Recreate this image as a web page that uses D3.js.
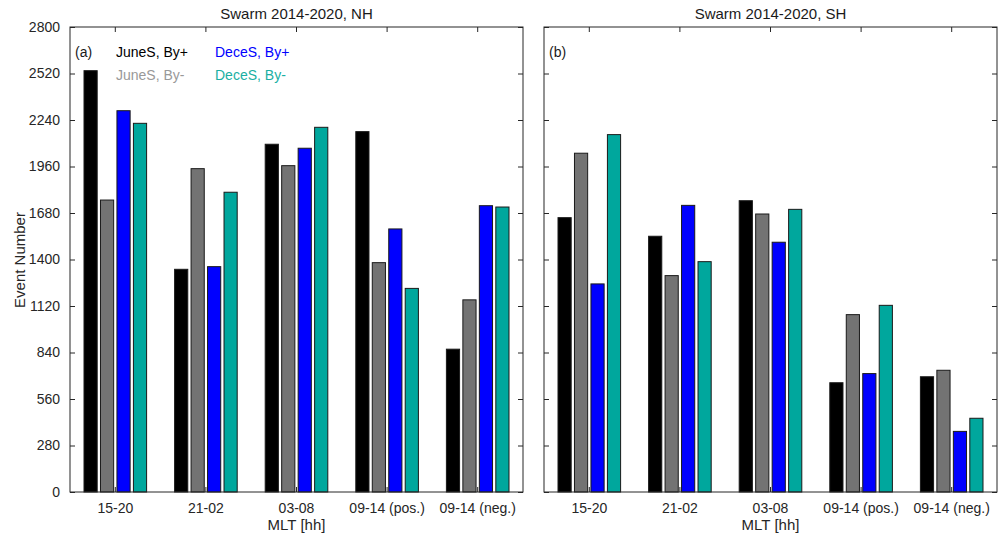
<!DOCTYPE html>
<html>
<head>
<meta charset="utf-8">
<script src="https://cdn.jsdelivr.net/npm/d3@7"></script>
<style>
  body { margin: 0; background: #fff; }
  svg { font-family: "Liberation Sans", Arial, Helvetica, sans-serif; }
</style>
</head>
<body>
<svg id="chart" width="1001" height="536"></svg>
<script>
// categories and series
const categories = ['15-20', '21-02', '03-08', '09-14 (pos.)', '09-14 (neg.)'];
const seriesNames = ['JuneS, By+', 'JuneS, By-', 'DeceS, By+', 'DeceS, By-'];
const yTicks = [0, 280, 560, 840, 1120, 1400, 1680, 1960, 2240, 2520, 2800];

// values, one array per series (NH, panel a)
const nhJunePlus = [2537, 1341, 2094, 2170, 860];
const nhJuneMinus = [1758, 1947, 1965, 1381, 1157];
const nhDecePlus = [2296, 1357, 2070, 1584, 1724];
const nhDeceMinus = [2220, 1805, 2196, 1226, 1716];

// SH, panel b
const shJunePlus = [1652, 1540, 1754, 658, 694];
const shJuneMinus = [2040, 1303, 1674, 1068, 733];
const shDecePlus = [1253, 1726, 1504, 713, 365];
const shDeceMinus = [2152, 1387, 1702, 1124, 444];

const barColors = ['#000000', '#737373', '#0000ff', '#00a79d'];
const legendColors = ['#000000', '#999999', '#0000ff', '#1aafa3'];

const svg = d3.select('#chart');
const plotTop = 27, plotBottom = 492;
const axisColor = '#262626';

const y = d3.scaleLinear().domain([0, 2800]).range([plotBottom, plotTop]);

const drawPanel = ({ left, right, title, tag, series, showYLabels }) => {
  const x = d3.scaleBand().domain(categories).range([left, right]);
  const gw = x.bandwidth() * 4 / 5.5;
  const xs = d3.scaleBand().domain(seriesNames).range([-gw / 2, gw / 2])
    .paddingInner(0.2).paddingOuter(0.1);

  const g = svg.append('g');

  // bars
  series.forEach((vals, si) => {
    g.selectAll(null)
      .data(vals)
      .enter()
      .append('rect')
      .attr('x', (d, i) => x(categories[i]) + x.bandwidth() / 2 + xs(seriesNames[si]))
      .attr('width', xs.bandwidth())
      .attr('y', d => y(d))
      .attr('height', d => y(0) - y(d))
      .style('fill', barColors[si])
      .style('stroke', '#1a1a1a')
      .style('stroke-width', 1);
  });

  // axes: ticks pointing inward
  const yLeft = d3.axisLeft(y).tickValues(yTicks).tickSizeInner(-5).tickSizeOuter(0)
    .tickPadding(10).tickFormat(showYLabels ? d3.format('d') : '');
  const gl = g.append('g').attr('transform', `translate(${left},0)`).call(yLeft);
  const gr = g.append('g').attr('transform', `translate(${right},0)`)
    .call(d3.axisRight(y).tickValues(yTicks).tickSizeInner(-5).tickSizeOuter(0).tickFormat(''));
  const gb = g.append('g').attr('transform', `translate(0,${plotBottom})`)
    .call(d3.axisBottom(x).tickSizeInner(-5).tickSizeOuter(0).tickPadding(11));
  const gt = g.append('g').attr('transform', `translate(0,${plotTop})`)
    .call(d3.axisTop(x).tickSizeInner(-5).tickSizeOuter(0).tickFormat(''));

  [gl, gr, gb, gt].forEach(a => {
    a.select('.domain').remove();
    a.selectAll('line').attr('stroke', axisColor);
    a.selectAll('text').attr('fill', '#262626').style('font-size', '14px')
      .style('font-family', '"Liberation Sans", Arial, sans-serif');
  });

  // box
  g.append('rect')
    .attr('x', left).attr('y', plotTop)
    .attr('width', right - left).attr('height', plotBottom - plotTop)
    .style('fill', 'none').style('stroke', axisColor).style('stroke-width', 1);

  g.append('text')
    .attr('x', (left + right) / 2).attr('y', 19)
    .attr('text-anchor', 'middle')
    .style('font-size', '15px').attr('fill', '#1a1a1a')
    .text(title);

  g.append('text')
    .attr('x', (left + right) / 2).attr('y', 530)
    .attr('text-anchor', 'middle')
    .style('font-size', '15px').attr('fill', '#262626')
    .text('MLT [hh]');

  g.append('text')
    .attr('x', left + 5).attr('y', 57)
    .style('font-size', '14px').attr('fill', '#1a1a1a')
    .text(tag);

  return g;
};

const gA = drawPanel({
  left: 70, right: 523, title: 'Swarm 2014-2020, NH', tag: '(a)', showYLabels: true,
  series: [nhJunePlus, nhJuneMinus, nhDecePlus, nhDeceMinus],
});
drawPanel({
  left: 544, right: 997, title: 'Swarm 2014-2020, SH', tag: '(b)', showYLabels: false,
  series: [shJunePlus, shJuneMinus, shDecePlus, shDeceMinus],
});

// legend in panel a
const legendPos = [[116, 57], [116, 80], [215, 57], [215, 80]];
seriesNames.forEach((name, i) => {
  gA.append('text')
    .attr('x', legendPos[i][0]).attr('y', legendPos[i][1])
    .style('font-size', '14px')
    .attr('fill', legendColors[i])
    .text(name);
});

svg.append('text')
  .attr('transform', 'translate(25,260) rotate(-90)')
  .attr('text-anchor', 'middle')
  .style('font-size', '15px').attr('fill', '#262626')
  .text('Event Number');
</script>
</body>
</html>
